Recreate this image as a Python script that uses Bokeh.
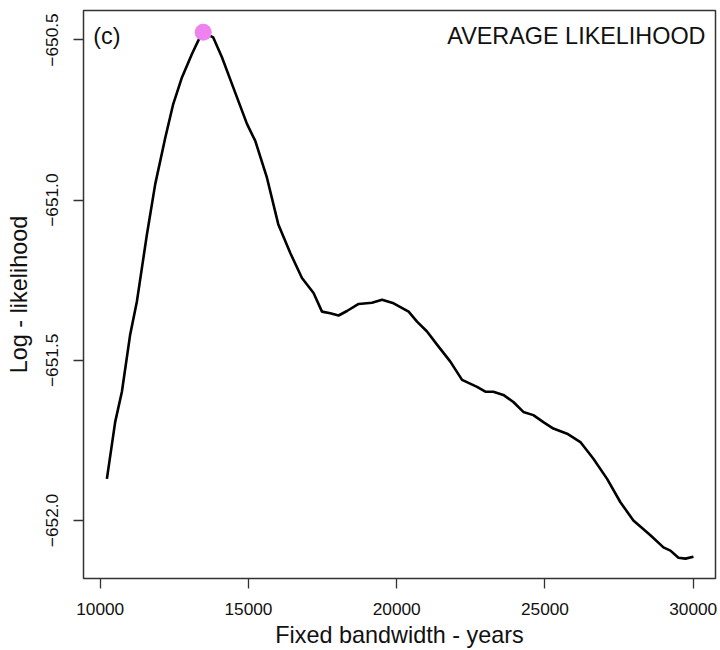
from bokeh.plotting import figure
from bokeh.models import Range1d, FixedTicker, Label
from bokeh.embed import file_html
from bokeh.resources import INLINE

# ---- data ----
bandwidth = [10226, 10506, 10732, 11012, 11238, 11576, 11856, 12193, 12463, 12757,
             13094, 13307, 13475, 13813, 14106, 14487, 14950, 15230, 15624, 16005,
             16411, 16805, 17196, 17480, 17760, 18040, 18323, 18715, 19167, 19505,
             19896, 20402, 20686, 21023, 21360, 21809, 22204, 22710, 22990, 23260,
             23597, 23935, 24272, 24609, 24947, 25284, 25747, 26195, 26634, 27096,
             27545, 27983, 28557, 28996, 29232, 29502, 29738, 30008]
loglik = [-651.870, -651.692, -651.598, -651.419, -651.316, -651.107, -650.950, -650.806,
          -650.700, -650.617, -650.544, -650.502, -650.476, -650.492, -650.554, -650.648,
          -650.762, -650.815, -650.930, -651.075, -651.165, -651.243, -651.290, -651.348,
          -651.353, -651.360, -651.346, -651.324, -651.320, -651.311, -651.322, -651.348,
          -651.379, -651.410, -651.451, -651.504, -651.561, -651.583, -651.598, -651.598,
          -651.608, -651.630, -651.661, -651.671, -651.693, -651.713, -651.729, -651.755,
          -651.807, -651.870, -651.943, -652.000, -652.046, -652.084, -652.094, -652.116,
          -652.119, -652.113]
best_bw = [13475]
best_ll = [-650.476]

x_ticks = [10000, 15000, 20000, 25000, 30000]
y_ticks = [-652.0, -651.5, -651.0, -650.5]
y_tick_labels = {-652.0: "\u2212652.0", -651.5: "\u2212651.5", -651.0: "\u2212651.0", -650.5: "\u2212650.5"}

FONT = "Liberation Sans"

p = figure(width=718, height=650, output_backend="svg", toolbar_location=None,
           x_range=Range1d(9437, 30752), y_range=Range1d(-652.181, -650.408),
           min_border_left=83, min_border_right=3, min_border_top=10, min_border_bottom=60)

p.background_fill_color = "white"
p.border_fill_color = "white"
p.outline_line_color = "#333333"
p.outline_line_width = 1.5
p.xgrid.visible = False
p.ygrid.visible = False

for ax in (p.xaxis[0], p.yaxis[0]):
    ax.axis_line_color = None
    ax.major_tick_in = 0
    ax.major_tick_out = 10
    ax.major_tick_line_color = "#333333"
    ax.major_tick_line_width = 1.3
    ax.minor_tick_line_color = None
    ax.major_label_text_font = FONT
    ax.major_label_text_font_size = "17.3px"
    ax.major_label_text_color = "#111111"
    ax.axis_label_text_font = FONT
    ax.axis_label_text_font_size = "23.4px"
    ax.axis_label_text_font_style = "normal"
    ax.axis_label_text_color = "#111111"

p.xaxis.ticker = FixedTicker(ticks=x_ticks)
p.yaxis.ticker = FixedTicker(ticks=y_ticks)
p.yaxis.major_label_overrides = y_tick_labels
p.yaxis.major_label_orientation = "vertical"
p.xaxis.major_label_standoff = 14
p.yaxis.major_label_standoff = 15
p.xaxis.axis_label = "Fixed bandwidth - years"
p.yaxis.axis_label = "Log - likelihood"
p.xaxis.axis_label_standoff = 4
p.yaxis.axis_label_standoff = 12

p.line(bandwidth, loglik, line_color="black", line_width=2.6)
p.scatter(best_bw, best_ll, size=17, fill_color="violet", line_color=None)

p.add_layout(Label(x=9764, y=-650.488, text="(c)", text_font=FONT, text_font_size="23.4px",
                   text_baseline="middle", text_align="left", text_color="#111111"))
p.add_layout(Label(x=30415, y=-650.488, text="AVERAGE LIKELIHOOD", text_font=FONT,
                   text_font_size="23.4px", text_baseline="middle", text_align="right",
                   text_color="#111111"))

open("out.html", "w").write(file_html(p, INLINE))
